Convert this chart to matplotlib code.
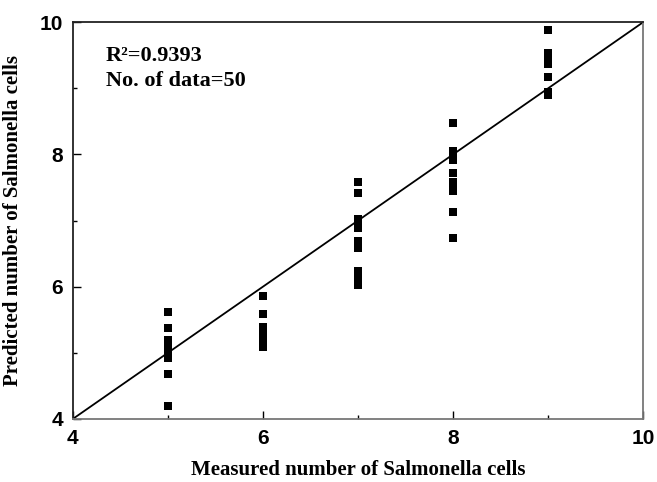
import matplotlib
matplotlib.use("Agg")
import matplotlib.pyplot as plt
from matplotlib.ticker import MultipleLocator

# measured vs predicted numbers (log counts)
measured_5 = [5.61, 5.37, 5.20, 5.13, 5.05, 5.00, 4.95, 4.92, 4.68, 4.20]
measured_6 = [5.86, 5.59, 5.39, 5.34, 5.29, 5.24, 5.19, 5.14, 5.11, 5.08]
measured_7 = [7.58, 7.41, 7.02, 6.95, 6.89, 6.69, 6.59, 6.24, 6.15, 6.03]
measured_8 = [8.47, 8.05, 7.98, 7.92, 7.72, 7.58, 7.51, 7.44, 7.13, 6.73]
measured_9 = [9.88, 9.53, 9.47, 9.45, 9.42, 9.40, 9.36, 9.17, 8.95, 8.90]

x_levels = [5, 6, 7, 8, 9]
predicted = [measured_5, measured_6, measured_7, measured_8, measured_9]

r2_text = "R\u00b2=0.9393"
n_text = "No. of data=50"
ticks = [4, 6, 8, 10]

serif = ["Liberation Serif", "DejaVu Serif"]
sans = ["Liberation Sans", "DejaVu Sans"]

fig = plt.figure(figsize=(6.57, 4.82), dpi=100)
ax = fig.add_axes([0.111, 0.131, 0.868, 0.823])

for xv, ys in zip(x_levels, predicted):
    ax.scatter([xv] * len(ys), ys, marker="s", s=32, color="black",
               linewidths=0, zorder=3)

# 1:1 line
ax.plot([4, 10], [4, 10], color="black", lw=1.3, zorder=2)

ax.set_xlim(4, 10)
ax.set_ylim(4, 10)
ax.set_xticks(ticks)
ax.set_yticks(ticks)
ax.xaxis.set_minor_locator(MultipleLocator(1))
ax.yaxis.set_minor_locator(MultipleLocator(1))
ax.tick_params(which="major", direction="in", length=6, width=1, pad=7)
ax.tick_params(which="minor", direction="in", length=3, width=1)
for lab in ax.get_xticklabels() + ax.get_yticklabels():
    lab.set_family(sans)
    lab.set_fontweight("bold")
    lab.set_fontsize(15)

for side in ["top", "left"]:
    ax.spines[side].set_color("#222222")
    ax.spines[side].set_linewidth(1.3)
for side in ["bottom", "right"]:
    ax.spines[side].set_color("#777777")
    ax.spines[side].set_linewidth(1.3)

ax.set_xlabel("Measured number of Salmonella cells", family=serif,
              fontweight="bold", fontsize=15, labelpad=9)
ax.set_ylabel("Predicted number of Salmonella cells", family=serif,
              fontweight="bold", fontsize=15, labelpad=12)

ax.text(0.058, 0.915, r2_text, transform=ax.transAxes, family=serif,
        fontweight="bold", fontsize=16, va="center", ha="left")
ax.text(0.058, 0.852, n_text, transform=ax.transAxes, family=serif,
        fontweight="bold", fontsize=16, va="center", ha="left")

fig.savefig("out.png", dpi=100)
